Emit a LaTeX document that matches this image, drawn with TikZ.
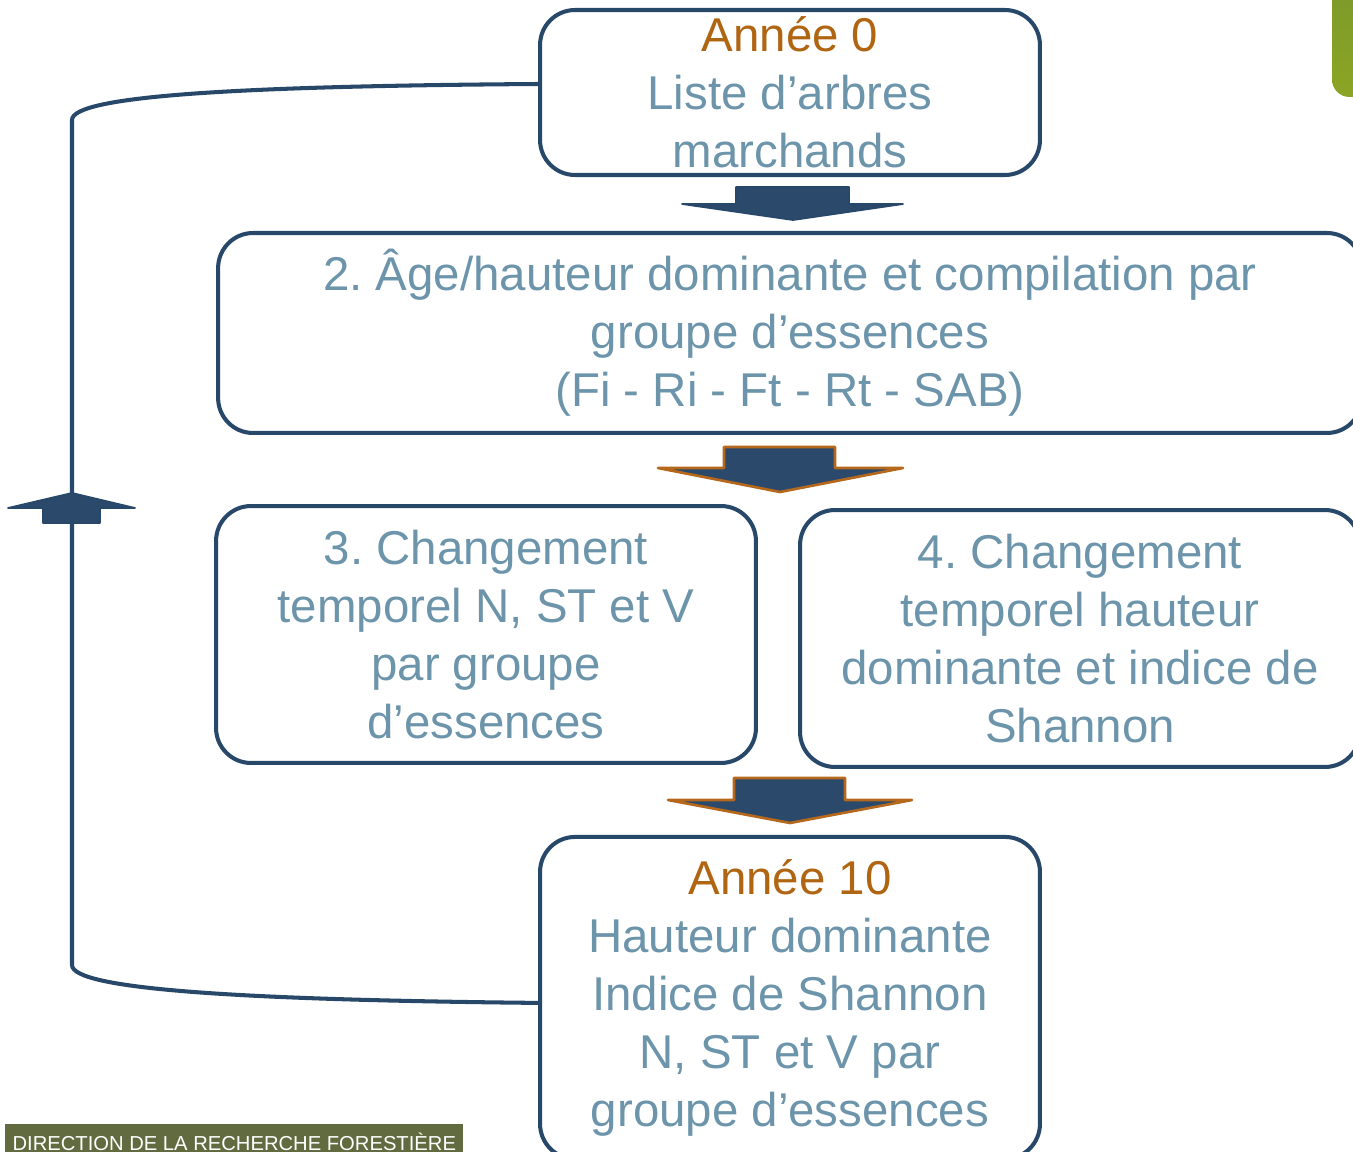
\documentclass[tikz,border=0pt]{standalone}
\usepackage{fontspec}
\setmainfont{Liberation Sans}
\usetikzlibrary{positioning}
\frenchspacing

\definecolor{boxline}{RGB}{40,72,105}
\definecolor{arrowfill}{RGB}{43,74,107}
\definecolor{textblue}{RGB}{108,148,170}
\definecolor{yearorange}{RGB}{176,101,18}
\definecolor{arroworange}{RGB}{181,104,28}
\definecolor{barolive}{RGB}{98,106,64}
\definecolor{leafgreen}{RGB}{122,153,44}
\definecolor{leaflight}{RGB}{140,165,36}

\tikzset{
  stage/.style={draw=boxline, line width=2.3pt, rounded corners=0.7cm, inner sep=0pt,
    align=center, text=textblue, font=\fontsize{27}{33}\selectfont},
  blockarrow/.style={fill=arrowfill, draw=boxline, line width=1pt, line join=round},
  blockarrowor/.style={blockarrow, draw=arroworange, line width=1.5pt},
  loopline/.style={draw=boxline, line width=2.3pt},
}

\begin{document}
\begin{tikzpicture}[x=0.02cm, y=-0.02cm]
    \clip (0,0) rectangle (1353,1152);
    % Define nodes
    \node[stage, minimum width=10cm, minimum height=3.3cm] (b1) at (790,92.5) {{\color{yearorange}Année 0}\\Liste d’arbres\\marchands};
    \node[stage, minimum width=22.88cm, minimum height=4cm, below=1.08cm of b1] (b2) {2. Âge/hauteur dominante et compilation par\\groupe d’essences\\(Fi - Ri - Ft - Rt - SAB)};
    \node[stage, minimum width=10.8cm, minimum height=5.14cm] (b3) at (486,634.5) {3. Changement\\temporel N, ST et V\\par groupe\\d’essences};
    \node[stage, minimum width=11.2cm, minimum height=5.14cm] (b4) at (1080,638.5) {4. Changement\\temporel hauteur\\dominante et indice de\\Shannon};
    \node[stage, minimum width=10cm, minimum height=6.44cm, below=8.0cm of b2] (b5) {{\color{yearorange}Année 10}\\Hauteur dominante\\Indice de Shannon\\N, ST et V par\\groupe d’essences};
    % block arrows between the stages
    \draw[blockarrow] (736,187) -- (849,187) -- (849,204) -- (903,204) -- (793,220) -- (682,204) -- (736,204) -- cycle;
    \draw[blockarrowor] (724,447) -- (835,447) -- (835,468) -- (903,468) -- (780,492) -- (658,468) -- (724,468) -- cycle;
    \draw[blockarrowor] (734,778) -- (845,778) -- (845,800) -- (912,800) -- (790,823) -- (668,800) -- (734,800) -- cycle;
    % loop back from year 10 to year 0
    \coordinate (lb) at (72,965);
    \coordinate (lt) at (72,120);
    \draw[loopline] ([yshift=-0.1cm]b5.west) .. controls (250,1000) and (72,990) .. (lb) -- (lt) .. controls (72,95) and (250,86) .. ([yshift=0.17cm]b1.west);
    \draw[blockarrow] (43,523) -- (100,523) -- (100,508) -- (135,508) -- (72,493) -- (8,508) -- (43,508) -- cycle;
    % corner decorations
    \shade[top color=leafgreen, bottom color=leaflight, rounded corners=0.35cm] (1332,-30) rectangle (1400,97);
    \node[fill=barolive, text=white, font=\fontsize{11.5}{13}\selectfont, anchor=west, minimum height=0.7cm, minimum width=9.16cm, inner xsep=0.1cm] (dir) at (5,1141.5) {DIRECTION DE LA RECHERCHE FORESTIÈRE};
\end{tikzpicture}
\end{document}
